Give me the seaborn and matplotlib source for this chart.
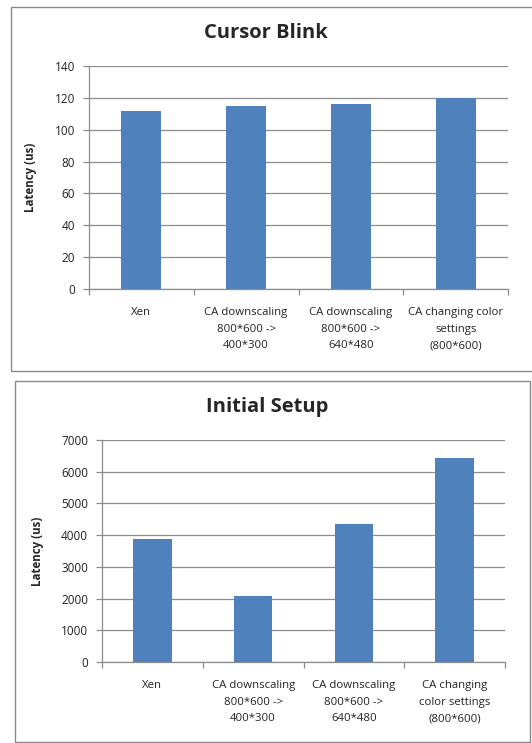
import matplotlib
matplotlib.use("Agg")
import matplotlib.pyplot as plt
from matplotlib.patches import Rectangle
import numpy as np
import pandas as pd
import seaborn as sns

# data
categories = ["Xen", "CA downscaling\n800*600 ->\n400*300",
              "CA downscaling\n800*600 ->\n640*480",
              "CA changing color\nsettings\n(800*600)"]
categories_setup = ["Xen", "CA downscaling\n800*600 ->\n400*300",
                    "CA downscaling\n800*600 ->\n640*480",
                    "CA changing\ncolor settings\n(800*600)"]
cursor_blink = [112, 115, 116, 120]
initial_setup = [3870, 2070, 4340, 6440]
cursor_ticks = [0, 20, 40, 60, 80, 100, 120, 140]
setup_ticks = [0, 1000, 2000, 3000, 4000, 5000, 6000, 7000]

sns.set_style("white")
plt.rcParams["font.family"] = ["Open Sans", "DejaVu Sans"]

W, H = 532, 743
fig = plt.figure(figsize=(W / 100, H / 100), dpi=100, facecolor="w")

def px(x0, y0, x1, y1):
    # pixel box -> figure fraction [left, bottom, width, height]
    return [x0 / W, 1 - y1 / H, (x1 - x0) / W, (y1 - y0) / H]

# chart frames
for (x0, y0, x1, y1) in [(11, 7, 540, 371), (15, 381, 530, 742)]:
    fig.patches.append(Rectangle((x0 / W, 1 - y1 / H), (x1 - x0) / W, (y1 - y0) / H,
                                 transform=fig.transFigure, fill=False,
                                 edgecolor="#8a8a8a", linewidth=1.0))

grid_c = "#8c8c8c"
bar_c = "#4f81bd"

def draw(ax, cats, vals, ticks, title, title_xy, ylab_x):
    df = pd.DataFrame({"cat": cats, "val": vals})
    sns.barplot(data=df, x="cat", y="val", ax=ax, color=bar_c, width=0.38,
                saturation=1, edgecolor="none")
    ax.set_ylim(ticks[0], ticks[-1])
    ax.set_yticks(ticks)
    ax.set_xlim(-0.5, len(cats) - 0.5)
    ax.set_xticks(np.arange(-0.5, len(cats)), minor=True)
    ax.yaxis.grid(True, color=grid_c, linewidth=0.9)
    ax.set_axisbelow(True)
    for s in ["top", "right"]:
        ax.spines[s].set_visible(False)
    for s in ["left", "bottom"]:
        ax.spines[s].set_color(grid_c)
        ax.spines[s].set_linewidth(0.9)
    ax.tick_params(axis="y", which="major", direction="out", length=4, color=grid_c,
                   width=0.9, labelsize=8.5, labelcolor="#222222", left=True, pad=6)
    ax.tick_params(axis="x", which="major", length=0, labelsize=8.2,
                   labelcolor="#222222", pad=13)
    ax.tick_params(axis="x", which="minor", direction="out", length=4, color=grid_c,
                   width=0.9, bottom=True)
    for t in ax.get_xticklabels():
        t.set_linespacing(1.7)
    ax.set_xlabel("")
    ax.set_ylabel("Latency (us)", fontsize=8.3, fontweight="bold")
    ax.yaxis.set_label_coords(ylab_x, 0.5)
    fig.text(title_xy[0] / W, 1 - title_xy[1] / H, title,
             ha="center", va="center", fontsize=14.5, fontweight="bold")

ax1 = fig.add_axes(px(89, 66, 508, 289))
draw(ax1, categories, cursor_blink, cursor_ticks, "Cursor Blink", (266, 33), -0.125)

ax2 = fig.add_axes(px(102, 440, 505, 662))
draw(ax2, categories_setup, initial_setup, setup_ticks, "Initial Setup", (267, 407), -0.145)

fig.savefig("out.png", dpi=100, facecolor="w")
